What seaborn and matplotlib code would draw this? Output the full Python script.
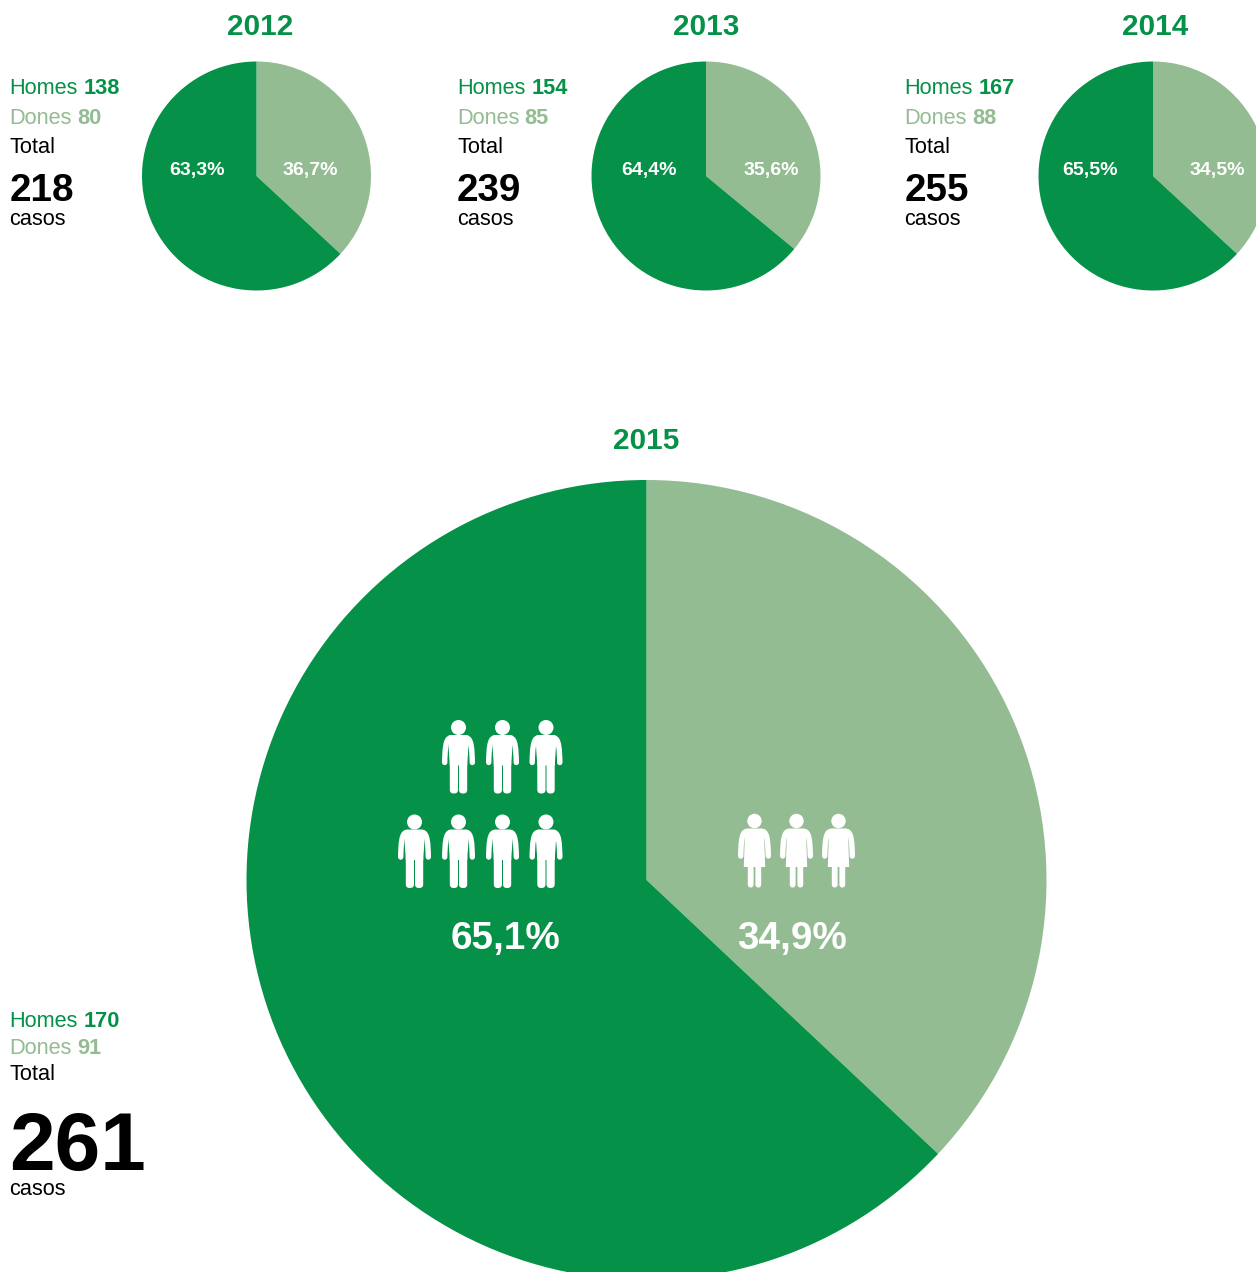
import matplotlib
matplotlib.use('Agg')
import matplotlib.pyplot as plt
import seaborn as sns
from matplotlib.patches import Circle, FancyBboxPatch, PathPatch, Polygon
from matplotlib.path import Path

years = ['2012', '2013', '2014', '2015']
homes = [138, 154, 167, 170]
dones = [80, 85, 88, 91]
totals = [218, 239, 255, 261]
pct_homes = ['63,3%', '64,4%', '65,5%', '65,1%']
pct_dones = ['36,7%', '35,6%', '34,5%', '34,9%']
# el que ocupa cada sector al dibuix original, no coincideix del tot amb les etiquetes
sector_dones = [36.9, 36.0, 36.9, 37.0]
sector_homes = [63.1, 64.0, 63.1, 63.0]

W, H = 1256, 1272
VERD = '#059147'
VERD_CLAR = '#94BC92'

sns.set_theme(style='white')
plt.rcParams['font.family'] = ['Liberation Sans', 'DejaVu Sans']
colors = sns.color_palette([VERD_CLAR, VERD])

fig = plt.figure(figsize=(W / 100, H / 100), dpi=100, facecolor='white')


def draw_pie(i, cx, cy, r):
    # el marge evita que l'eix retalli la vora del cercle
    m = 1.02
    ax = fig.add_axes([(cx - r * m) / W, 1 - (cy + r * m) / H, 2 * r * m / W, 2 * r * m / H])
    ax.pie([sector_dones[i], sector_homes[i]], colors=colors, startangle=90, counterclock=False,
           wedgeprops={'linewidth': 0})
    ax.set_xlim(-m, m)
    ax.set_ylim(-m, m)


draw_pie(0, 256.5, 176, 114.5)
draw_pie(1, 706, 176, 114.5)
draw_pie(2, 1153, 176, 114.5)
draw_pie(3, 646.5, 880, 400)

over = fig.add_axes([0, 0, 1, 1])
over.set_xlim(0, W)
over.set_ylim(H, 0)
over.set_axis_off()
over.patch.set_alpha(0)


def txt(x, y, s, size, color='black', weight='normal', ha='left', va='baseline'):
    over.text(x, y, s, fontsize=size, color=color, fontweight=weight, ha=ha, va=va)


def side_block(i, x, base_y, big_size):
    hy, dy, ty, ny, cy = base_y
    txt(x, hy, 'Homes', 15.7, VERD)
    txt(x + 74.5, hy, str(homes[i]), 15.7, VERD, 'bold')
    txt(x, dy, 'Dones', 15.7, VERD_CLAR)
    txt(x + 67.5, dy, str(dones[i]), 15.7, VERD_CLAR, 'bold')
    txt(x, ty, 'Total', 15.7)
    txt(x, ny, str(totals[i]), big_size, 'black', 'bold')
    txt(x, cy, 'casos', 15.7)


small_rows = (94, 124, 153, 201, 225)
side_block(0, 9.5, small_rows, 27.8)
side_block(1, 457, small_rows, 27.8)
side_block(2, 904.5, small_rows, 27.8)
side_block(3, 9.5, (1027, 1054, 1080, 1170, 1195), 59)

txt(260, 35, years[0], 21.4, VERD, 'bold', ha='center')
txt(706, 35, years[1], 21.4, VERD, 'bold', ha='center')
txt(1155, 35, years[2], 21.4, VERD, 'bold', ha='center')
txt(646, 449, years[3], 21.4, VERD, 'bold', ha='center')

for i, (xh, xd) in enumerate([(197, 310), (649, 771), (1090, 1217)]):
    txt(xh, 170, pct_homes[i], 14, 'white', 'bold', ha='center', va='center')
    txt(xd, 170, pct_dones[i], 14, 'white', 'bold', ha='center', va='center')
txt(506, 939, pct_homes[3], 27.8, 'white', 'bold', ha='center', va='center')
txt(792, 939, pct_dones[3], 27.8, 'white', 'bold', ha='center', va='center')


def rounded(x, y, w, h, pad):
    over.add_patch(FancyBboxPatch((x + pad, y + pad), w - 2 * pad, h - 2 * pad,
                                  boxstyle=f'round,pad={pad}', fc='white', ec='none'))


def arms(cx, top):
    for s in (-1, 1):
        verts = [(cx + s * 8, top + 18.5), (cx + s * 13, top + 19), (cx + s * 13.5, top + 30), (cx + s * 13.8, top + 43)]
        codes = [Path.MOVETO, Path.CURVE4, Path.CURVE4, Path.CURVE4]
        over.add_patch(PathPatch(Path(verts, codes), fc='none', ec='white', lw=3.9, capstyle='round'))


def home(cx, top):
    over.add_patch(Circle((cx, top + 8), 7.5, fc='white', ec='none'))
    arms(cx, top)
    rounded(cx - 11, top + 15.5, 22, 10, 4)
    over.add_patch(Polygon([(cx - 10.3, top + 22), (cx + 10.3, top + 22), (cx + 8.7, top + 46), (cx - 8.7, top + 46)],
                           fc='white', ec='none'))
    rounded(cx - 8.7, top + 40, 8.2, 34, 3.8)
    rounded(cx + 0.5, top + 40, 8.2, 34, 3.8)


def dona(cx, top):
    over.add_patch(Circle((cx, top + 8), 7.2, fc='white', ec='none'))
    arms(cx, top)
    rounded(cx - 10.5, top + 15.5, 21, 10, 4)
    over.add_patch(Polygon([(cx - 9.6, top + 22), (cx + 9.6, top + 22), (cx + 10.7, top + 54), (cx - 10.7, top + 54)],
                           fc='white', ec='none'))
    rounded(cx - 6.7, top + 50, 5.8, 24.5, 2.8)
    rounded(cx + 0.9, top + 50, 5.8, 24.5, 2.8)


for cx in (458.5, 502.5, 546):
    home(cx, 719.5)
for cx in (414.5, 458.5, 502.5, 546):
    home(cx, 814)
for cx in (754.5, 796.5, 838.5):
    dona(cx, 813)

fig.savefig('out.png', dpi=100)
